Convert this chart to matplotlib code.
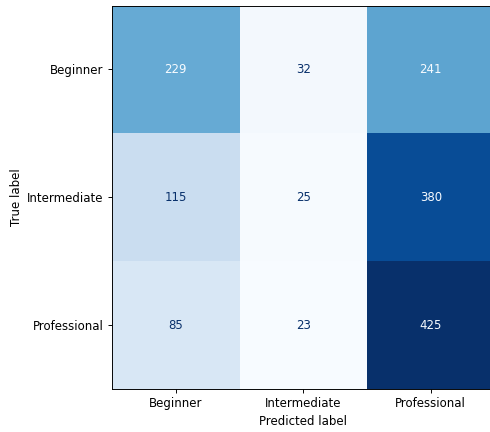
import numpy as np
import matplotlib
matplotlib.use("Agg")
import matplotlib.pyplot as plt

labels = ["Beginner", "Intermediate", "Professional"]
counts = np.array([
    [229, 32, 241],
    [115, 25, 380],
    [85, 23, 425],
])

# everything scaled down a bit so the long tick labels fit
scale = 0.85
plt.rcParams.update({
    "font.size": 10 * scale,
    "axes.linewidth": 0.8 * scale,
    "xtick.major.size": 3.5 * scale,
    "ytick.major.size": 3.5 * scale,
    "xtick.major.width": 0.8 * scale,
    "ytick.major.width": 0.8 * scale,
    "xtick.major.pad": 3.5 * scale,
    "ytick.major.pad": 3.5 * scale,
    "axes.labelpad": 4.0 * scale,
})


def main():
    fig = plt.figure(figsize=(4.9, 4.32), dpi=100)
    ax = fig.add_axes([0.2286, 0.0995, 0.7806, 0.8877])

    cmap = plt.get_cmap("Blues")
    ax.imshow(counts, cmap=cmap, interpolation="nearest", aspect="auto")

    thresh = (counts.max() + counts.min()) / 2.0
    for i in range(counts.shape[0]):
        for j in range(counts.shape[1]):
            color = cmap(0.0) if counts[i, j] > thresh else cmap(1.0)
            ax.text(j, i, str(counts[i, j]), ha="center", va="center", color=color)

    ax.set_xticks(range(len(labels)))
    ax.set_xticklabels(labels)
    ax.set_yticks(range(len(labels)))
    ax.set_yticklabels(labels)
    ax.set_xlabel("Predicted label")
    ax.set_ylabel("True label")

    fig.savefig("out.png", dpi=100)


if __name__ == "__main__":
    main()
